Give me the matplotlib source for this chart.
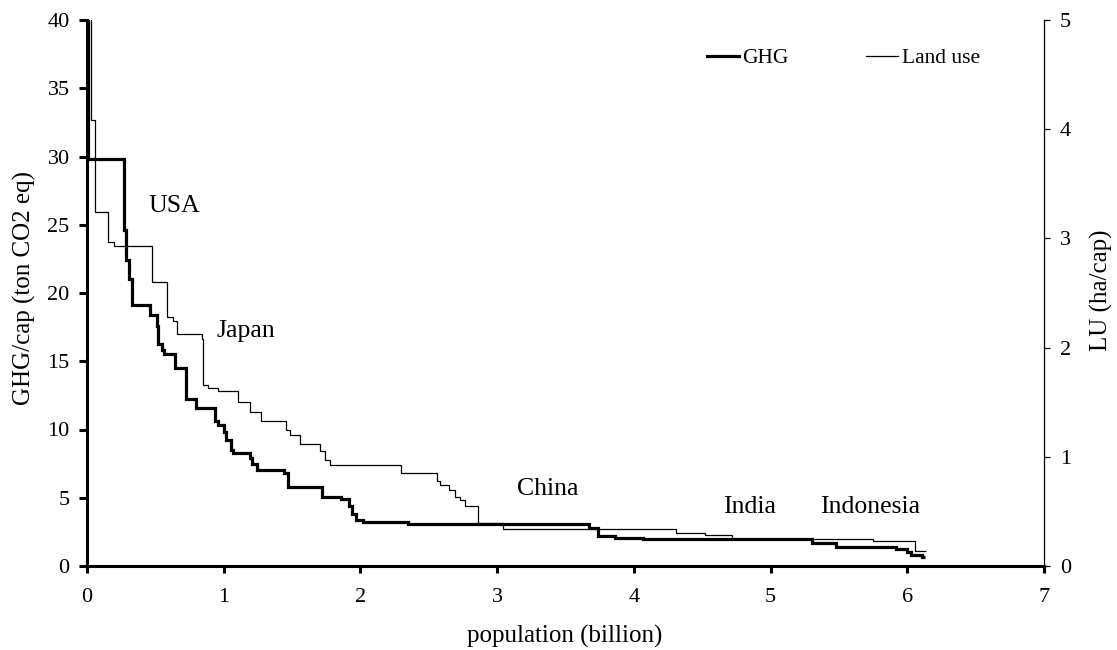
import matplotlib
matplotlib.use("Agg")
import matplotlib.pyplot as plt
import numpy as np

plt.rcParams['font.family'] = ['Liberation Serif', 'DejaVu Serif']

# GHG per capita, countries sorted high -> low, x = cumulative population (billion)
ghg_edges = [0, 0.004, 0.008, 0.273, 0.283, 0.305, 0.331, 0.461, 0.51, 0.52,
             0.545, 0.56, 0.645, 0.726, 0.797, 0.937, 0.955, 1.0, 1.02, 1.05,
             1.07, 1.19, 1.21, 1.24, 1.44, 1.47, 1.72, 1.86, 1.92, 1.94,
             1.97, 2.02, 2.35, 3.67, 3.74, 3.86, 4.07, 5.30, 5.48, 5.92,
             6.0, 6.03, 6.105, 6.13]
ghg_values = [45, 35.7, 29.8, 24.6, 22.4, 21.0, 19.1, 18.4, 17.6, 16.3,
              15.8, 15.5, 14.5, 12.2, 11.6, 10.6, 10.3, 9.8, 9.2, 8.5,
              8.3, 7.9, 7.5, 7.0, 6.8, 5.8, 5.05, 4.9, 4.4, 3.8,
              3.4, 3.25, 3.05, 2.75, 2.2, 2.05, 1.95, 1.7, 1.4, 1.22,
              1.05, 0.8, 0.64]

# land use per capita (ha/cap)
lu_edges = [0, 0.03, 0.058, 0.155, 0.2, 0.475, 0.585, 0.627, 0.656, 0.84,
            0.851, 0.888, 0.96, 1.107, 1.192, 1.276, 1.456, 1.485, 1.558, 1.705,
            1.74, 1.777, 2.30, 2.558, 2.582, 2.645, 2.69, 2.729, 2.765, 2.858,
            3.045, 4.31, 4.52, 4.716, 5.752, 6.057, 6.137]
lu_values = [6, 4.08, 3.24, 2.97, 2.93, 2.6, 2.28, 2.24, 2.12, 2.08,
             1.66, 1.63, 1.60, 1.50, 1.41, 1.33, 1.25, 1.20, 1.12, 1.05,
             0.97, 0.925, 0.855, 0.78, 0.74, 0.70, 0.635, 0.60, 0.545, 0.39,
             0.335, 0.305, 0.284, 0.245, 0.232, 0.14]

countries = ["USA", "Japan", "China", "India", "Indonesia"]
country_x = [0.449, 0.949, 3.143, 4.655, 5.362]
country_y = [25.9, 16.75, 5.2, 3.88, 3.88]

fig = plt.figure(figsize=(11.17, 6.5), dpi=100)
ax = fig.add_axes([87 / 1117, 84 / 650, 957 / 1117, 546 / 650])
ax2 = ax.twinx()

l1 = ax.stairs(ghg_values, ghg_edges, baseline=None, color="black", linewidth=2.3, label="GHG")
l2 = ax2.stairs(lu_values, lu_edges, baseline=None, color="black", linewidth=0.9, label="Land use")

ax.set_xlim(0, 7)
ax.set_ylim(0, 40)
ax2.set_ylim(0, 5)
ax.set_xticks(np.arange(0, 8, 1))
ax.set_yticks(np.arange(0, 45, 5))
ax2.set_yticks(np.arange(0, 6, 1))

for s in ["top", "right"]:
    ax.spines[s].set_visible(False)
for s in ["top", "left", "bottom"]:
    ax2.spines[s].set_visible(False)
ax.spines["left"].set_linewidth(2.2)
ax.spines["bottom"].set_linewidth(2.2)
ax2.spines["right"].set_linewidth(0.9)

ax.tick_params(axis="y", direction="out", length=6, width=2.2, pad=6.5, labelsize=16)
ax.tick_params(axis="x", direction="out", length=5, width=2.2, pad=11, labelsize=16)
ax2.tick_params(axis="y", direction="out", length=4.5, width=0.9, pad=7, labelsize=16)

for name, x, y in zip(countries, country_x, country_y):
    ax.text(x, y, name, fontsize=18.5, ha="left", va="baseline")

fig.text(565 / 1117, 7 / 650, "population (billion)", fontsize=18, ha="center", va="baseline")
fig.text(24 / 1117, 1 - 288 / 650, "GHG/cap (ton CO2 eq)", fontsize=18, rotation=90,
         ha="center", va="center")
fig.text(1101 / 1117, 1 - 290 / 650, "LU (ha/cap)", fontsize=18, rotation=90,
         ha="center", va="center")

from matplotlib.lines import Line2D
handles = [Line2D([], [], color="black", linewidth=2.3),
           Line2D([], [], color="black", linewidth=0.9)]
ax.legend(handles, ["GHG", "Land use"], ncol=2, frameon=False, fontsize=15.5,
          loc="center left", bbox_to_anchor=(0.6476, 0.93), borderpad=0,
          borderaxespad=0, handlelength=1.5, handletextpad=0.15, columnspacing=3.6)

fig.savefig("out.png", dpi=100)
